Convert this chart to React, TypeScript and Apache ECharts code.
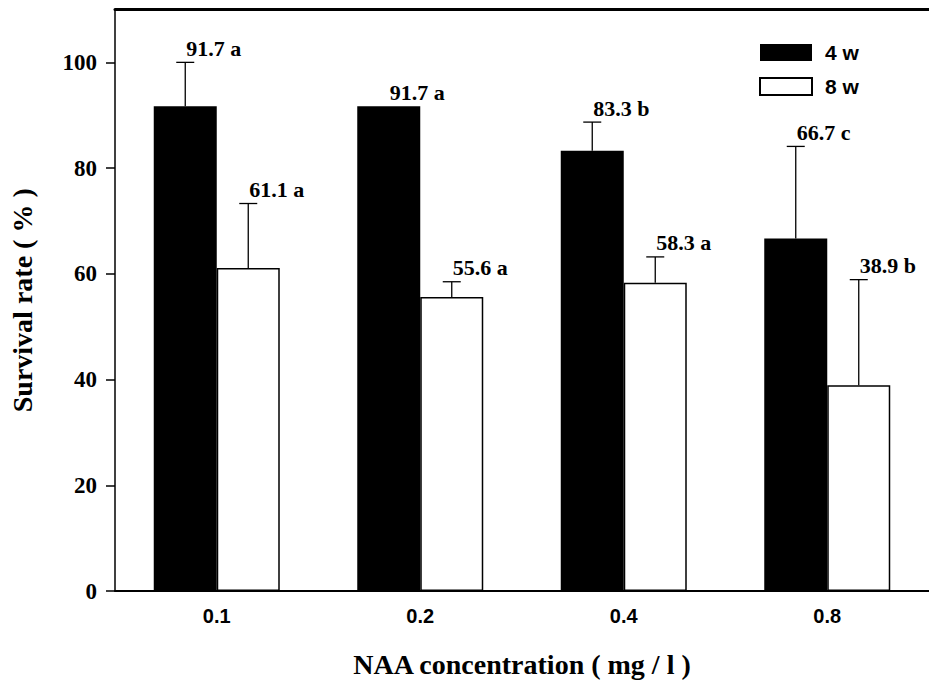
import React, { useEffect, useRef } from "react";
import * as echarts from "echarts";

const categories = ["0.1", "0.2", "0.4", "0.8"];
const fourWeekMeans = [91.7, 91.7, 83.3, 66.7];
const eightWeekMeans = [61.1, 55.6, 58.3, 38.9];
const fourWeekErrors = [8.3, 0, 5.4, 17.4];
const eightWeekErrors = [12.2, 2.9, 4.9, 20.0];
const fourWeekLetters = ["a", "a", "b", "c"];
const eightWeekLetters = ["a", "a", "a", "b"];
const yTicks = [0, 20, 40, 60, 80, 100];

const BAR_W = 63;
const SERIF = "'Liberation Serif', 'Times New Roman', serif";
const SANS = "'Liberation Sans', Arial, sans-serif";

function makeErrorSeries(means: number[], errors: number[], letters: string[], side: number) {
  return {
    type: "custom",
    z: 5,
    silent: true,
    data: means.map((m, i) => [i, m, errors[i]]),
    renderItem: (params: any, api: any) => {
      const idx = api.value(0);
      const mean = api.value(1);
      const err = api.value(2);
      const base = api.coord([idx, mean]);
      const top = api.coord([idx, mean + err]);
      const x = base[0] + (side * BAR_W) / 2;
      const children: any[] = [];
      if (err > 0) {
        children.push({
          type: "line",
          shape: { x1: x, y1: base[1], x2: x, y2: top[1] },
          style: { stroke: "#000", lineWidth: 1.3 },
        });
        children.push({
          type: "line",
          shape: { x1: x - 9, y1: top[1], x2: x + 9, y2: top[1] },
          style: { stroke: "#000", lineWidth: 1.3 },
        });
      }
      children.push({
        type: "text",
        x: x + 1,
        y: top[1] - 3,
        style: {
          text: `${means[params.dataIndex].toFixed(1)} ${letters[params.dataIndex]}`,
          fontFamily: SERIF,
          fontWeight: "bold",
          fontSize: 22,
          fill: "#000",
          textAlign: "left",
          textVerticalAlign: "bottom",
        },
      });
      return { type: "group", children };
    },
  };
}

export default function App() {
  const ref = useRef<HTMLDivElement>(null);
  useEffect(() => {
    if (!ref.current) return;
    const chart = echarts.init(ref.current, null, { renderer: "svg" });
    chart.setOption({
      animation: false,
      backgroundColor: "#fff",
      grid: { left: 113, top: 9.5, width: 824, height: 583.5 },
      legend: {
        data: ["4 w", "8 w"],
        orient: "vertical",
        left: 754,
        top: 37,
        icon: "rect",
        itemWidth: 52,
        itemHeight: 17,
        itemGap: 13,
        selectedMode: false,
        textStyle: {
          fontFamily: SANS,
          fontWeight: "bold",
          fontSize: 21,
          color: "#000",
          padding: [0, 0, 0, 8],
        },
      },
      xAxis: [
        {
          type: "category",
          data: categories,
          position: "bottom",
          axisLine: { show: true, lineStyle: { color: "#000", width: 2 } },
          axisTick: { show: false },
          axisLabel: {
            fontFamily: SANS,
            fontWeight: "bold",
            fontSize: 20,
            color: "#000",
            margin: 15,
          },
          name: "NAA concentration ( mg / l )",
          nameLocation: "middle",
          nameGap: 59,
          nameTextStyle: { fontFamily: SERIF, fontWeight: "bold", fontSize: 28, color: "#000" },
        },
        {
          type: "category",
          data: categories,
          position: "top",
          axisLine: { show: true, lineStyle: { color: "#000", width: 3 } },
          axisTick: { show: false },
          axisLabel: { show: false },
        },
      ],
      yAxis: {
        type: "value",
        min: 0,
        max: 110,
        interval: 10,
        splitLine: { show: false },
        axisLine: { show: true, lineStyle: { color: "#000", width: 1.5 } },
        axisTick: {
          show: true,
          inside: false,
          length: 9,
          lineStyle: { color: "#000", width: 1.5 },
          customValues: yTicks,
        },
        axisLabel: {
          customValues: yTicks,
          fontFamily: SERIF,
          fontWeight: "bold",
          fontSize: 23,
          color: "#000",
          margin: 18,
        },
        name: "Survival rate ( % )",
        nameLocation: "middle",
        nameGap: 79,
        nameTextStyle: { fontFamily: SERIF, fontWeight: "bold", fontSize: 28, color: "#000" },
      },
      series: [
        {
          name: "4 w",
          type: "bar",
          data: fourWeekMeans,
          barWidth: BAR_W,
          barGap: "0%",
          itemStyle: { color: "#000" },
        },
        {
          name: "8 w",
          type: "bar",
          data: eightWeekMeans,
          barWidth: BAR_W,
          barGap: "0%",
          itemStyle: { color: "#fff", borderColor: "#000", borderWidth: 1.5 },
        },
        makeErrorSeries(fourWeekMeans, fourWeekErrors, fourWeekLetters, -1),
        makeErrorSeries(eightWeekMeans, eightWeekErrors, eightWeekLetters, 1),
      ],
    });
    return () => chart.dispose();
  }, []);
  return (
    <div
      ref={ref}
      style={{ position: "fixed", left: 0, top: 0, width: 929, height: 683, background: "#fff" }}
    />
  );
}
